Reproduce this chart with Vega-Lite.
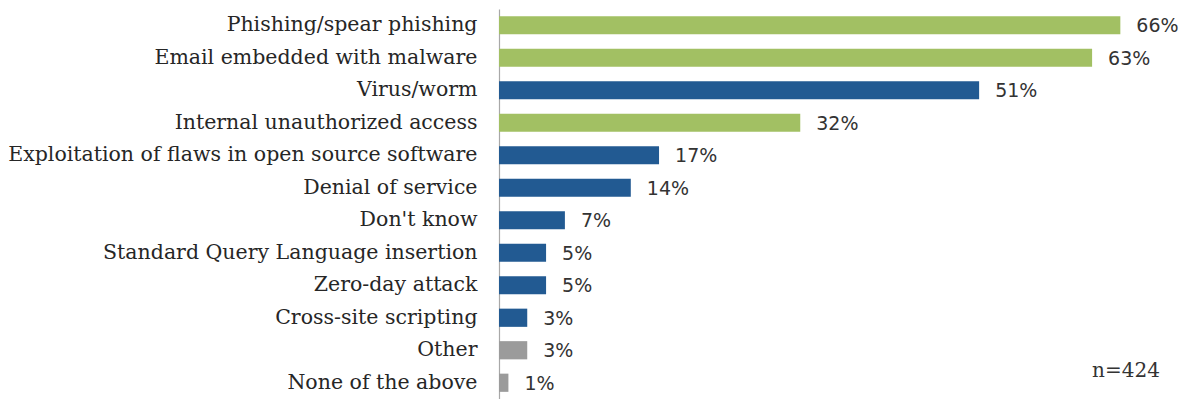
{
  "$schema": "https://vega.github.io/schema/vega-lite/v6.json",
  "width": 659,
  "height": 390,
  "autosize": {"type": "none"},
  "padding": {"left": 499, "top": 9, "right": 32, "bottom": 0},
  "background": "white",
  "config": {"view": {"stroke": null}},
  "data": {
    "values": [
      {"attack": "Phishing/spear phishing", "share": 0.66, "group": "highlight"},
      {"attack": "Email embedded with malware", "share": 0.63, "group": "highlight"},
      {"attack": "Virus/worm", "share": 0.51, "group": "standard"},
      {"attack": "Internal unauthorized access", "share": 0.32, "group": "highlight"},
      {"attack": "Exploitation of flaws in open source software", "share": 0.17, "group": "standard"},
      {"attack": "Denial of service", "share": 0.14, "group": "standard"},
      {"attack": "Don't know", "share": 0.07, "group": "standard"},
      {"attack": "Standard Query Language insertion", "share": 0.05, "group": "standard"},
      {"attack": "Zero-day attack", "share": 0.05, "group": "standard"},
      {"attack": "Cross-site scripting", "share": 0.03, "group": "standard"},
      {"attack": "Other", "share": 0.03, "group": "residual"},
      {"attack": "None of the above", "share": 0.01, "group": "residual"}
    ]
  },
  "encoding": {
    "y": {
      "field": "attack",
      "type": "nominal",
      "sort": null,
      "scale": {"paddingInner": 0.44, "paddingOuter": 0.22},
      "axis": {
        "title": null,
        "ticks": false,
        "domain": true,
        "domainColor": "#a8a8a8",
        "domainWidth": 1.2,
        "labelFont": "DejaVu Serif",
        "labelFontSize": 20.5,
        "labelColor": "#262626",
        "labelPadding": 22,
        "labelLimit": 0
      }
    }
  },
  "layer": [
    {
      "mark": {"type": "bar"},
      "encoding": {
        "x": {
          "field": "share",
          "type": "quantitative",
          "scale": {"domain": [0, 0.7], "nice": false},
          "axis": null
        },
        "color": {
          "field": "group",
          "type": "nominal",
          "scale": {"domain": ["highlight", "standard", "residual"], "range": ["#a2c063", "#225a92", "#9b9b9b"]},
          "legend": null
        }
      }
    },
    {
      "mark": {"type": "text", "align": "left", "baseline": "middle", "dx": 16, "dy": 1, "font": "DejaVu Sans", "fontSize": 19, "color": "#333333"},
      "encoding": {
        "x": {"field": "share", "type": "quantitative"},
        "text": {"field": "share", "type": "quantitative", "format": ".0%"}
      }
    },
    {
      "data": {"values": [{"note": "n=424", "share": 0.63, "attack": "None of the above"}]},
      "mark": {"type": "text", "align": "left", "baseline": "middle", "dy": -12, "font": "DejaVu Serif", "fontSize": 20, "color": "#333333"},
      "encoding": {
        "x": {"field": "share", "type": "quantitative"},
        "text": {"field": "note", "type": "nominal"}
      }
    }
  ]
}
